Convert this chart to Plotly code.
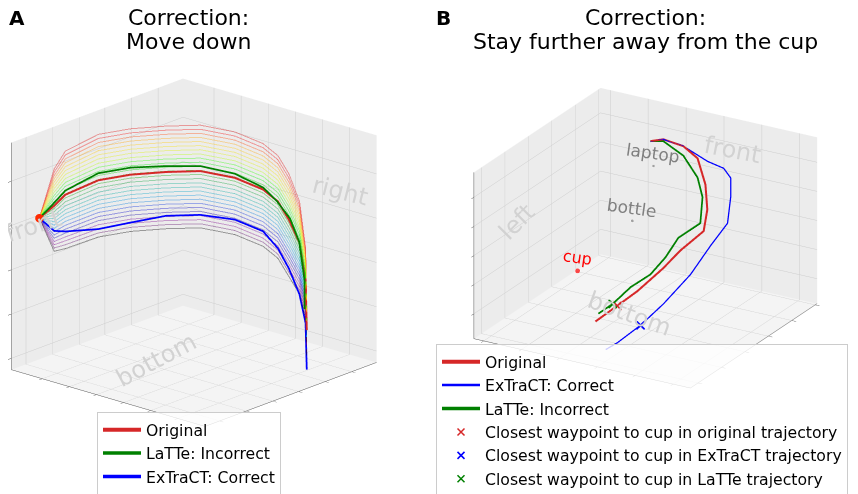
import plotly.graph_objects as go

# ---------------- panel A: "Move down" ----------------
# original trajectory (waypoints in a unit box)
a_orig_x = [0.039, 0.154, 0.223, 0.388, 0.552, 0.686, 0.780, 0.837, 0.839, 0.842, 0.820, 0.789, 0.745, 0.734]
a_orig_y = [0.890, 0.916, 0.919, 0.895, 0.873, 0.809, 0.715, 0.588, 0.444, 0.370, 0.293, 0.211, 0.141, 0.125]
a_orig_z = [0.684, 0.699, 0.728, 0.751, 0.735, 0.725, 0.726, 0.712, 0.696, 0.661, 0.605, 0.533, 0.400, 0.186]

# ExTraCT result shares the original x/y, only heights change
a_extract_z = [0.684, 0.589, 0.566, 0.536, 0.524, 0.532, 0.533, 0.528, 0.512, 0.455, 0.390, 0.305, 0.211, 0.012]

# LaTTe result
a_latte_x = [0.039, 0.154, 0.223, 0.388, 0.552, 0.686, 0.780, 0.837, 0.839, 0.838, 0.823, 0.788, 0.742, 0.728]
a_latte_y = [0.890, 0.916, 0.919, 0.895, 0.873, 0.809, 0.715, 0.588, 0.444, 0.374, 0.290, 0.212, 0.144, 0.131]
a_latte_z = [0.684, 0.712, 0.746, 0.782, 0.766, 0.751, 0.748, 0.730, 0.705, 0.665, 0.611, 0.538, 0.400, 0.278]

# fan of intermediate trajectories: height offset of each line, and how much
# of that offset every waypoint takes
a_fan_offsets = [0.202, 0.184, 0.166, 0.148, 0.130, 0.112, 0.094, 0.075, 0.057, 0.039, 0.021, 0.003, -0.015,
                 -0.033, -0.052, -0.070, -0.088, -0.106, -0.124, -0.142, -0.160, -0.178, -0.196, -0.214, -0.232, -0.250]
a_fan_profile = [0.0, 0.8, 0.95, 1.0, 1.0, 1.0, 1.0, 1.0, 1.0, 1.0, 1.0, 0.9, 0.7, 0.45]
a_fan_colors = ["#dd0000", "#f50000", "#ff4300", "#ffa100", "#ffc600", "#f5e000", "#ddf300", "#b3ff00", "#2dff00",
                "#00ef00", "#00d600", "#00be00", "#00a500", "#009f31", "#00aa8b", "#00aaa3", "#00a1c5", "#0091dd",
                "#0078dd", "#0026dd", "#0000c9", "#1000a8", "#72009c", "#7e008f", "#560062", "#000000"]

# ---------------- panel B: "Stay further away from the cup" ----------------
b_orig_x = [0.726, 0.752, 0.766, 0.778, 0.751, 0.711, 0.660, 0.570, 0.493, 0.398, 0.313, 0.226]
b_orig_y = [0.610, 0.565, 0.481, 0.422, 0.370, 0.338, 0.325, 0.380, 0.413, 0.477, 0.521, 0.571]
b_orig_z = [0.935, 0.946, 0.923, 0.861, 0.732, 0.611, 0.512, 0.425, 0.349, 0.240, 0.181, 0.116]

b_latte_x = [0.726, 0.752, 0.766, 0.778, 0.745, 0.697, 0.609, 0.540, 0.467, 0.384, 0.304, 0.232]
b_latte_y = [0.610, 0.565, 0.481, 0.422, 0.380, 0.362, 0.412, 0.431, 0.458, 0.501, 0.537, 0.561]
b_latte_z = [0.935, 0.935, 0.866, 0.745, 0.657, 0.530, 0.472, 0.384, 0.310, 0.263, 0.192, 0.163]

b_extract_x = [0.726, 0.752, 0.766, 0.798, 0.813, 0.802, 0.776, 0.751, 0.674, 0.591, 0.450, 0.317, 0.184, 0.118]
b_extract_y = [0.610, 0.565, 0.481, 0.388, 0.322, 0.283, 0.268, 0.268, 0.301, 0.345, 0.387, 0.416, 0.445, 0.460]
b_extract_z = [0.935, 0.946, 0.923, 0.843, 0.813, 0.772, 0.674, 0.530, 0.425, 0.281, 0.164, 0.093, 0.047, 0.035]

# index of the waypoint closest to the cup (original, ExTraCT, LaTTe)
b_closest_idx = [10, 11, 10]

b_objects = ["laptop", "bottle", "cup"]
b_obj_x = [0.775, 0.690, 0.536]
b_obj_y = [0.624, 0.672, 0.835]
b_obj_z = [0.757, 0.456, 0.185]

RED = "#d62728"
GREEN = "#008000"
BLUE = "#0000ff"
FONT = "DejaVu Sans"

# the page puts the figure 8px in from the top-left corner
OFF = 8


def px(X):
    return (X - OFF) / 858


def py(Y):
    return 1 - (Y - OFF) / 494


def line3d(x, y, z, color, name, scene, legend, width=3.5, showlegend=True):
    return go.Scatter3d(x=x, y=y, z=z, mode="lines", name=name, scene=scene, legend=legend,
                        line=dict(color=color, width=width), showlegend=showlegend)


fig = go.Figure()

# fan first so the main lines sit over it
for off, col in zip(a_fan_offsets, a_fan_colors):
    fz = [z + off * p for z, p in zip(a_orig_z, a_fan_profile)]
    fig.add_trace(go.Scatter3d(x=a_orig_x, y=a_orig_y, z=fz, mode="lines", scene="scene",
                               line=dict(color=col, width=2), opacity=0.35, showlegend=False,
                               hoverinfo="skip"))

fig.add_trace(line3d(a_orig_x, a_orig_y, a_orig_z, RED, "Original", "scene", "legend", width=4))
fig.add_trace(line3d(a_latte_x, a_latte_y, a_latte_z, GREEN, "LaTTe: Incorrect", "scene", "legend"))
fig.add_trace(line3d(a_orig_x, a_orig_y, a_extract_z, BLUE, "ExTraCT: Correct", "scene", "legend"))
fig.add_trace(go.Scatter3d(x=a_orig_x[:1], y=a_orig_y[:1], z=a_orig_z[:1], mode="markers", scene="scene",
                           marker=dict(color="#ff2a00", size=5), showlegend=False))

# panel B
fig.add_trace(line3d(b_orig_x, b_orig_y, b_orig_z, RED, "Original", "scene2", "legend2", width=4))
fig.add_trace(line3d(b_extract_x, b_extract_y, b_extract_z, BLUE, "ExTraCT: Correct", "scene2", "legend2", width=2.5))
fig.add_trace(line3d(b_latte_x, b_latte_y, b_latte_z, GREEN, "LaTTe: Incorrect", "scene2", "legend2"))

closest = [
    (b_orig_x, b_orig_y, b_orig_z, RED, "original"),
    (b_extract_x, b_extract_y, b_extract_z, BLUE, "ExTraCT"),
    (b_latte_x, b_latte_y, b_latte_z, GREEN, "LaTTe"),
]
for (xs, ys, zs, col, lab), i in zip(closest, b_closest_idx):
    name = "Closest waypoint to cup in %s trajectory" % lab
    fig.add_trace(go.Scatter3d(x=[xs[i]], y=[ys[i]], z=[zs[i]], mode="markers", scene="scene2",
                               name=name, showlegend=False, marker=dict(symbol="x", color=col, size=2)))
    # legend entry with a thin cross like the 3D one
    fig.add_trace(go.Scatter(x=[None], y=[None], mode="markers", name=name, legend="legend2",
                             marker=dict(symbol="x-thin", size=7, line=dict(width=1.5, color=col))))

obj_colors = ["#808080", "#808080", "#ff0000"]
fig.add_trace(go.Scatter3d(x=b_obj_x, y=b_obj_y, z=b_obj_z, mode="markers", scene="scene2",
                           marker=dict(color=obj_colors, size=[3.5, 3.5, 6]), showlegend=False))


def axis(tickvals, bg):
    return dict(range=[0, 1], tickvals=tickvals, showticklabels=False, title=dict(text=""),
                showbackground=True, backgroundcolor=bg, gridcolor="#cdcdcd", gridwidth=1,
                showline=True, linecolor="#555555", linewidth=1, ticks="outside", ticklen=5,
                tickcolor="#555555", zeroline=False, showspikes=False, autorange=False)


WALL = "#ececec"
FLOOR = "#f4f4f4"


def wall_text(x, y, z, text, angle, color="#d2d2d2", size=24, yshift=0):
    return dict(x=x, y=y, z=z, text=text, textangle=angle, showarrow=False, yshift=yshift,
                font=dict(family=FONT, size=size, color=color))


def title(X, Y, text, size=22, bold=False):
    return dict(x=px(X), y=py(Y), xref="paper", yref="paper", xanchor="center", yanchor="middle",
                showarrow=False, text="<b>%s</b>" % text if bold else text, font=dict(size=size))


SA = 1.31   # zoom of panel A box
SB = 1.45   # zoom of panel B box

fig.update_layout(
    width=858, height=494,
    margin=dict(l=0, r=0, t=0, b=0),
    paper_bgcolor="white",
    plot_bgcolor="rgba(0,0,0,0)",
    font=dict(family=FONT, color="black"),
    xaxis=dict(visible=False, domain=[0, 0.01]),
    yaxis=dict(visible=False, domain=[0, 0.01]),
    scene=dict(
        domain=dict(x=[0.0, 0.434], y=[0.104, 0.904]),
        xaxis=axis([0.085, 0.24, 0.395, 0.545, 0.7, 0.855], WALL),
        yaxis=axis([0.14, 0.28, 0.42, 0.56, 0.70, 0.84], WALL),
        zaxis=axis([0.05, 0.245, 0.44, 0.635, 0.83], FLOOR),
        aspectmode="manual", aspectratio=dict(x=SA, y=SA, z=SA * 0.93),
        camera=dict(eye=dict(x=-1.41, y=-1.25, z=0.66), up=dict(x=0, y=0, z=1),
                    projection=dict(type="orthographic")),
        annotations=[
            wall_text(0.128, 1.0, 0.6, "front", -18),
            wall_text(1.0, 0.19, 0.71, "right", 14),
            wall_text(0.46, 0.66, 0.0, "bottom", -28),
        ],
    ),
    scene2=dict(
        domain=dict(x=[0.4925, 0.9925], y=[0.185, 0.885]),
        xaxis=axis([0.06, 0.245, 0.43, 0.615, 0.8, 0.985], WALL),
        yaxis=axis([0.08, 0.255, 0.43, 0.605, 0.78, 0.955], WALL),
        zaxis=axis([0.15, 0.325, 0.5, 0.675, 0.85], FLOOR),
        aspectmode="manual", aspectratio=dict(x=SB, y=SB, z=SB * 0.72),
        camera=dict(eye=dict(x=-1.59, y=-0.93, z=0.78), up=dict(x=0, y=0, z=1),
                    projection=dict(type="orthographic")),
        annotations=[
            wall_text(0.34, 1.0, 0.53, "left", -45),
            wall_text(1.0, 0.387, 0.81, "front", 11),
            wall_text(0.528, 0.587, 0.0, "bottom", 20),
        ] + [
            wall_text(x, y, z, t, 8, color=c, size=17 if t != "cup" else 16, yshift=13)
            for x, y, z, t, c in zip(b_obj_x, b_obj_y, b_obj_z, b_objects, ["#808080", "#808080", "#ff0000"])
        ],
    ),
    legend=dict(x=px(97), y=py(412), xanchor="left", yanchor="top", bgcolor="rgba(255,255,255,0.8)",
                bordercolor="#cccccc", borderwidth=1, font=dict(size=15.7), itemwidth=38),
    legend2=dict(x=px(436), y=py(344), xanchor="left", yanchor="top", bgcolor="rgba(255,255,255,0.8)",
                 bordercolor="#cccccc", borderwidth=1, font=dict(size=15.7), itemwidth=38),
    annotations=[
        title(188, 17, "Correction:"),
        title(188, 41, "Move down"),
        title(645, 17, "Correction:"),
        title(645, 41, "Stay further away from the cup"),
        title(17, 18, "A", size=20, bold=True),
        title(443, 18, "B", size=20, bold=True),
    ],
)

fig.write_html("out.html")
